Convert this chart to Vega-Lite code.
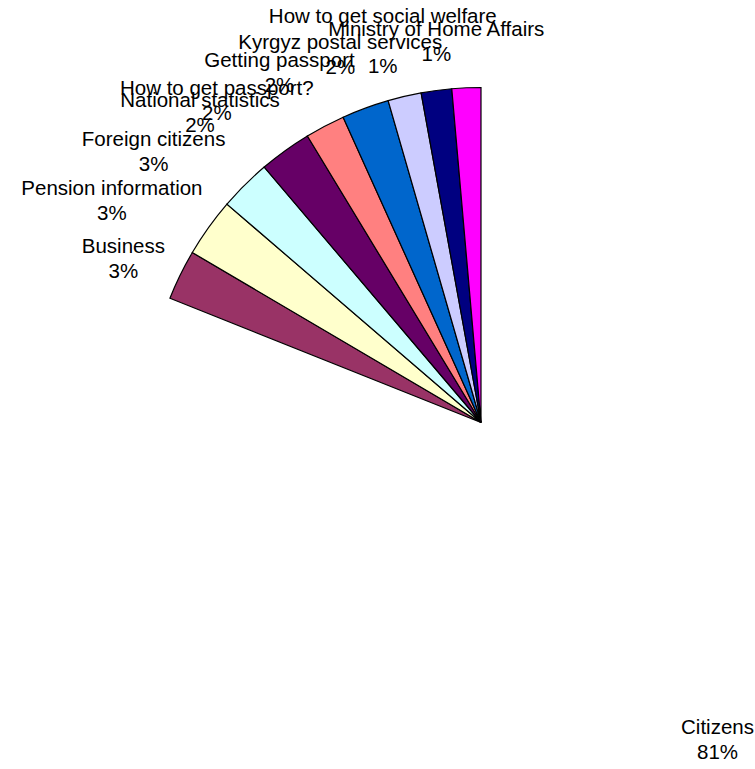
{
  "$schema": "https://vega.github.io/schema/vega-lite/v6.json",
  "width": 548,
  "height": 693,
  "autosize": {"type": "none"},
  "padding": {"left": 207, "top": 76, "right": 0, "bottom": 0},
  "background": "white",
  "config": {
    "view": {"stroke": null},
    "text": {"font": "Liberation Sans", "fontSize": 20.5, "lineBreak": "\n", "lineHeight": 25, "align": "center", "baseline": "middle", "color": "black"}
  },
  "data": {
    "values": [
      {"rank": 1, "name": "Citizens", "value": 81.05, "label": "Citizens\n81%"},
      {"rank": 2, "name": "Business", "value": 2.42, "label": "Business\n3%"},
      {"rank": 3, "name": "Pension information", "value": 2.83, "label": "Pension information\n3%"},
      {"rank": 4, "name": "Foreign citizens", "value": 2.5, "label": "Foreign citizens\n3%"},
      {"rank": 5, "name": "National statistics", "value": 2.53, "label": "National statistics\n2%"},
      {"rank": 6, "name": "How to get passport?", "value": 1.92, "label": "How to get passport?\n2%"},
      {"rank": 7, "name": "Getting passport", "value": 2.28, "label": "Getting passport\n2%"},
      {"rank": 8, "name": "Kyrgyz postal services", "value": 1.61, "label": "Kyrgyz postal services\n2%"},
      {"rank": 9, "name": "How to get social welfare", "value": 1.47, "label": "How to get social welfare\n1%"},
      {"rank": 10, "name": "Ministry of Home Affairs", "value": 1.39, "label": "Ministry of Home Affairs\n1%"}
    ]
  },
  "encoding": {
    "theta": {"field": "value", "type": "quantitative", "stack": true},
    "order": {"field": "rank", "type": "quantitative"}
  },
  "layer": [
    {
      "mark": {"type": "arc", "radius": 335, "stroke": "black"},
      "encoding": {
        "color": {
          "field": "name",
          "type": "nominal",
          "scale": {
            "domain": ["Citizens", "Business", "Pension information", "Foreign citizens", "National statistics", "How to get passport?", "Getting passport", "Kyrgyz postal services", "How to get social welfare", "Ministry of Home Affairs"],
            "range": ["#FFFFFF", "#993366", "#FFFFCC", "#CCFFFF", "#660066", "#FF8080", "#0066CC", "#CCCCFF", "#000080", "#FF00FF"]
          },
          "legend": null
        },
        "strokeWidth": {"condition": {"test": "datum.name === 'Citizens'", "value": 0}, "value": 1.2}
      }
    },
    {
      "mark": {"type": "text", "radius": 385, "dx": -12, "dy": -6},
      "encoding": {
        "text": {"condition": {"test": "datum.name === 'Business'", "field": "label", "type": "nominal"}, "value": ""}
      }
    },
    {
      "mark": {"type": "text", "radius": 385, "dx": -56, "dy": -9},
      "encoding": {
        "text": {"condition": {"test": "indexof(['Pension information', 'Foreign citizens', 'National statistics'], datum.name) >= 0", "field": "label", "type": "nominal"}, "value": ""}
      }
    },
    {
      "mark": {"type": "text", "radius": 520, "dx": -22, "dy": 127},
      "encoding": {
        "text": {"condition": {"test": "indexof(['How to get passport?', 'Getting passport', 'Kyrgyz postal services', 'Ministry of Home Affairs'], datum.name) >= 0", "field": "label", "type": "nominal"}, "value": ""}
      }
    },
    {
      "mark": {"type": "text", "radius": 520, "dx": -29, "dy": 110, "lineHeight": 50},
      "encoding": {
        "text": {"condition": {"test": "datum.name === 'How to get social welfare'", "field": "label", "type": "nominal"}, "value": ""}
      }
    },
    {
      "mark": {"type": "text", "radius": 395, "dx": 15, "dy": -22},
      "encoding": {
        "text": {"condition": {"test": "datum.name === 'Citizens'", "field": "label", "type": "nominal"}, "value": ""}
      }
    }
  ]
}
